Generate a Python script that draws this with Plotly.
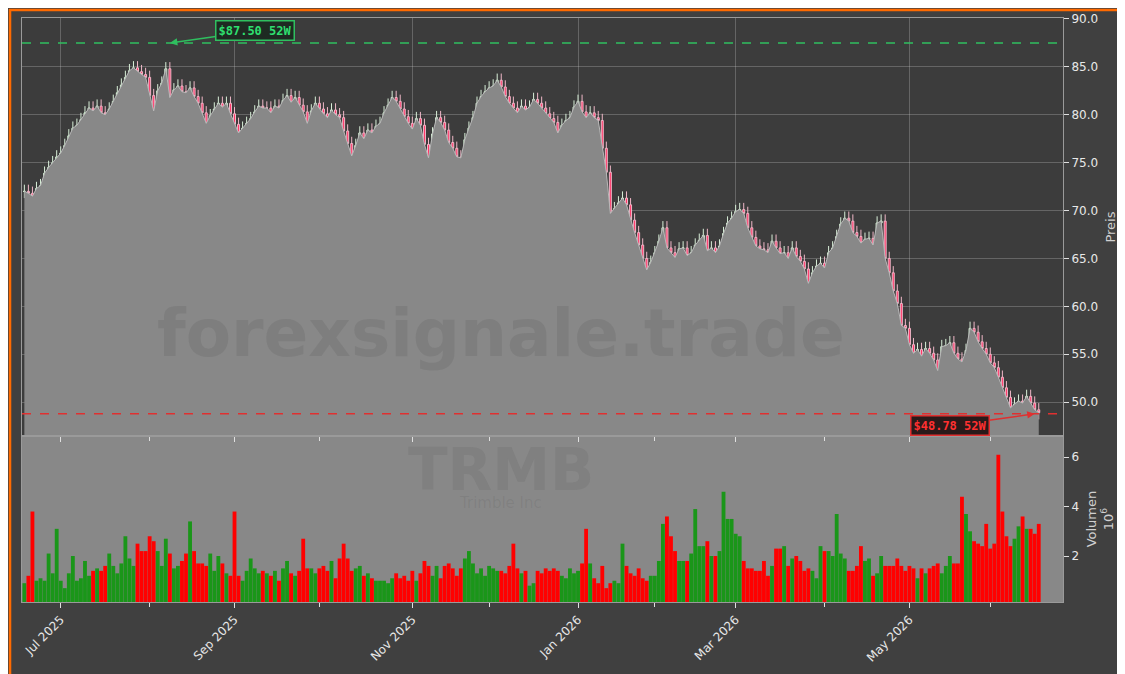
import pandas as pd
import plotly.graph_objects as go
from plotly.subplots import make_subplots

# --------------------------
# Data
# --------------------------
closes = [
    72.0, 71.8, 71.5, 72.3, 72.6, 73.9, 74.5, 75.0, 75.6, 76.0, 76.8,
    77.8, 78.6, 78.9, 79.5, 80.2, 80.7, 80.4, 80.9, 80.2, 80.0,
    80.6, 81.4, 82.3, 83.1, 83.9, 84.6, 84.9, 84.5, 84.2, 83.9,
    82.0, 80.4, 82.5, 83.3, 84.8, 81.8, 82.6, 83.0, 82.4, 82.3,
    82.8, 81.9, 81.2, 80.2, 79.1, 79.9, 80.6, 81.2, 80.8, 81.2,
    80.1, 79.0, 78.1, 78.6, 79.1, 79.6, 80.3, 80.9, 80.7, 80.7,
    80.2, 80.9, 80.7, 81.5, 82.0, 81.3, 81.8, 81.0, 80.3, 79.1,
    80.4, 81.2, 80.6, 80.1, 79.7, 80.5, 80.0, 79.7, 78.3, 77.0,
    75.7, 76.8, 78.1, 77.5, 78.4, 78.1, 78.8, 79.1, 80.2, 81.0,
    81.8, 81.4, 80.6, 79.8, 79.1, 78.5, 79.6, 78.9, 76.9, 75.5,
    78.0, 79.7, 79.2, 78.4, 77.1, 76.5, 75.6, 75.5, 77.4, 78.6,
    79.7, 81.2, 81.9, 82.4, 82.8, 83.0, 83.6, 82.9, 81.9, 81.2,
    80.7, 80.2, 80.9, 80.5, 80.8, 81.6, 81.2, 80.7, 80.1, 79.6,
    79.2, 78.1, 78.9, 79.4, 79.7, 80.8, 81.4, 80.3, 79.7, 80.2,
    79.7, 79.4, 76.5, 74.0, 69.7, 70.2, 70.8, 71.3, 70.6, 69.0,
    67.7, 66.4, 65.0, 63.8, 64.6, 65.6, 66.8, 68.2, 66.1, 65.6,
    65.1, 66.0, 66.1, 65.3, 65.6, 66.4, 66.9, 67.4, 65.8, 66.1,
    65.6, 66.3, 67.6, 68.7, 69.2, 69.9, 70.1, 69.7, 68.2, 67.2,
    66.3, 66.0, 65.9, 65.6, 66.8, 66.1, 65.5, 65.6, 65.0, 66.1, 65.2,
    64.7, 63.9, 62.4, 63.5, 64.2, 64.5, 64.0, 65.6, 66.1, 67.3,
    68.6, 69.2, 68.9, 67.7, 67.3, 66.6, 67.0, 67.1, 66.4, 68.7,
    68.9, 65.0, 63.5, 61.6, 60.3, 58.0, 57.7, 56.0, 55.1, 55.5,
    54.8, 55.6, 55.1, 54.4, 53.3, 55.8, 55.9, 56.2, 55.1, 54.5,
    54.2, 55.4, 57.7, 57.3, 56.3, 55.6, 55.0, 54.1, 53.6, 52.6,
    51.5, 50.5, 49.4, 49.8, 50.1, 49.9, 50.6, 49.9, 49.2, 48.9,
]

volumes = [
    0.9, 1.2, 3.8, 1.0, 1.1, 1.0, 2.1, 1.3, 3.1, 1.0, 0.7, 1.3, 2.0, 1.0, 1.1, 1.8, 1.2, 1.4, 1.5, 1.4,
    1.6, 2.1, 1.6, 1.3, 1.7, 2.8, 1.9, 1.6, 2.5, 2.2, 2.2, 2.8, 2.6, 2.2, 1.6, 2.7, 2.1, 1.5, 1.6, 1.8,
    2.1, 3.4, 2.2, 1.7, 1.7, 1.6, 2.1, 1.4, 2.0, 1.7, 1.3, 1.2, 3.8, 1.2, 1.0, 1.4, 1.9, 1.5, 1.3, 1.4,
    1.3, 1.2, 1.4, 1.0, 1.5, 1.8, 1.3, 1.2, 1.4, 2.7, 1.5, 1.5, 1.3, 1.5, 1.6, 1.4, 1.8, 1.1, 1.9, 2.5,
    1.9, 1.4, 1.5, 1.6, 1.2, 1.3, 1.1, 1.0, 1.0, 1.0, 0.9, 1.1, 1.3, 1.1, 1.2, 1.0, 1.4, 1.0, 1.3, 1.8,
    1.6, 1.2, 1.6, 1.1, 1.6, 1.7, 1.5, 1.2, 1.5, 1.9, 2.2, 1.7, 1.3, 1.5, 1.2, 1.6, 1.5, 1.4, 1.4, 1.3,
    1.6, 2.5, 1.5, 1.3, 1.4, 0.8, 0.9, 1.4, 1.3, 1.5, 1.4, 1.5, 1.4, 1.2, 1.1, 1.5, 1.3, 1.4, 1.7, 3.1,
    1.7, 1.1, 0.9, 1.6, 0.7, 0.9, 1.0, 0.9, 2.5, 1.6, 1.3, 1.2, 1.5, 1.1, 1.0, 1.2, 1.2, 1.8, 3.3, 3.6,
    2.8, 2.2, 1.8, 1.8, 1.8, 2.1, 3.9, 2.4, 2.4, 2.6, 2.0, 2.0, 2.2, 4.6, 3.5, 3.5, 2.9, 2.8, 1.8, 1.5,
    1.5, 1.4, 1.4, 1.8, 1.2, 1.6, 2.3, 2.3, 2.4, 1.6, 1.9, 2.0, 1.8, 1.4, 1.5, 1.4, 1.1, 2.4, 2.2, 2.2,
    2.0, 3.7, 2.1, 1.9, 1.4, 1.4, 1.6, 2.4, 1.8, 1.9, 1.2, 1.3, 2.0, 1.6, 1.6, 1.6, 1.9, 1.6, 1.4, 1.6,
    1.5, 1.1, 1.5, 1.3, 1.5, 1.6, 1.7, 1.3, 1.6, 2.0, 1.7, 1.7, 4.4, 3.7, 3.0, 2.6, 2.5, 2.4, 3.3, 2.3,
    2.5, 6.1, 3.8, 2.8, 2.4, 2.7, 3.2, 3.6, 3.1, 3.1, 2.9, 3.3,
]

holidays = ["2025-07-04", "2025-09-01", "2025-11-27", "2025-12-25", "2026-01-01",
            "2026-01-19", "2026-02-16", "2026-04-03", "2026-05-25"]

high_52w = 87.50
low_52w = 48.78

n = min(len(closes), len(volumes))
closes = closes[:n]
volumes = volumes[:n]

days = pd.bdate_range("2025-06-18", periods=n + 20)
days = [d for d in days if d.strftime("%Y-%m-%d") not in holidays][:n]

opens = [closes[0]] + closes[:-1]
highs = [max(o, c) + 0.7 for o, c in zip(opens, closes)]
lows = [min(o, c) - 0.7 for o, c in zip(opens, closes)]
vol_colors = ["#1a9619" if c >= o else "#ff0000" for o, c in zip(opens, closes)]

# --------------------------
# Figure
# --------------------------
fig = make_subplots(rows=2, cols=1, shared_xaxes=True, vertical_spacing=0,
                    row_heights=[0.716, 0.284])

# light panel behind the volume bars
fig.add_shape(type="rect", xref="paper", yref="paper", x0=0, x1=1, y0=0, y1=0.284,
              fillcolor="#888888", line_width=0, layer="below")

fig.add_trace(go.Scatter(x=days, y=closes, mode="lines", fill="tozeroy",
                         line=dict(color="#b8b8b8", width=1),
                         fillcolor="#888888", hoverinfo="skip", showlegend=False),
              row=1, col=1)

fig.add_trace(go.Candlestick(x=days, open=opens, high=highs, low=lows, close=closes,
                             increasing=dict(fillcolor="#5cd65c", line=dict(color="#d8efd8", width=1)),
                             decreasing=dict(fillcolor="#ff3366", line=dict(color="#f0b8c8", width=1)),
                             whiskerwidth=0, showlegend=False),
              row=1, col=1)

fig.add_trace(go.Bar(x=days, y=volumes, marker=dict(color=vol_colors, line_width=0),
                     showlegend=False), row=2, col=1)

fig.add_hline(y=high_52w, line=dict(color="#2fbf5f", width=1.5, dash="dash"), row=1, col=1)
fig.add_hline(y=low_52w, line=dict(color="#e03030", width=1.5, dash="dash"), row=1, col=1)

i_hi = 36
i_lo = len(lows) - 2
fig.add_annotation(x=days[i_hi], y=high_52w, xref="x", yref="y",
                   text="<b>$87.50 52W</b>", font=dict(color="#2fdf6f", size=12, family="DejaVu Sans Mono"),
                   bgcolor="#1e2a22", bordercolor="#2fbf5f", borderwidth=1.5, borderpad=2,
                   showarrow=True, arrowhead=2, arrowcolor="#2fbf5f", arrowwidth=1.5,
                   ax=85, ay=-12)
fig.add_annotation(x=days[i_lo], y=low_52w, xref="x", yref="y",
                   text="<b>$48.78 52W</b>", font=dict(color="#ff3030", size=12, family="DejaVu Sans Mono"),
                   bgcolor="#2a1a1a", bordercolor="#e03030", borderwidth=1.5, borderpad=2,
                   showarrow=True, arrowhead=2, arrowcolor="#e03030", arrowwidth=1.5,
                   ax=-85, ay=12)

# watermarks
fig.add_annotation(x=0.46, y=0.46, xref="paper", yref="paper", yanchor="middle",
                   text="<b>forexsignale.trade</b>", showarrow=False,
                   font=dict(size=66, color="rgba(60,60,60,0.12)", family="DejaVu Sans"))
fig.add_annotation(x=0.46, y=0.226, xref="paper", yref="paper", yanchor="middle",
                   text="<b>TRMB</b>", showarrow=False,
                   font=dict(size=58, color="rgba(60,60,60,0.1)", family="DejaVu Sans"))
fig.add_annotation(x=0.46, y=0.17, xref="paper", yref="paper", yanchor="middle",
                   text="Trimble Inc", showarrow=False,
                   font=dict(size=15, color="rgba(60,60,60,0.1)", family="DejaVu Sans"))

# orange frame around the figure
fig.add_shape(type="rect", xref="paper", yref="paper", x0=-0.0115, x1=1.0648, y0=-0.1325, y1=1.0135,
              line=dict(color="#ff6a00", width=2.5), fillcolor="rgba(0,0,0,0)")

grid = "rgba(200,200,200,0.3)"
x_end = days[-1] + pd.tseries.offsets.BDay(6)
fig.update_xaxes(type="date", rangebreaks=[dict(bounds=["sat", "mon"]), dict(values=holidays)],
                 range=[days[0] - pd.Timedelta(hours=14), x_end],
                 showgrid=True, gridcolor=grid, dtick="M2", tick0="2025-07-01",
                 tickformat="%b %Y", tickangle=-45, ticks="outside", tickcolor="#e0e0e0",
                 minor=dict(dtick="M1", ticks="outside", ticklen=4, tickcolor="#e0e0e0", showgrid=False),
                 showline=True, linecolor="#9a9a9a", mirror=True, zeroline=False)
fig.update_xaxes(showticklabels=False, row=1, col=1)
fig.update_xaxes(showgrid=False, row=2, col=1)
fig.update_xaxes(rangeslider_visible=False)

fig.update_yaxes(side="right", showgrid=True, gridcolor=grid, ticks="outside", tickcolor="#e0e0e0",
                 showline=True, linecolor="#9a9a9a", mirror=True, zeroline=False, automargin=False)
fig.update_yaxes(range=[46.45, 90.1], dtick=5, tickformat=".1f",
                 title=dict(text="Preis", font=dict(size=13, color="#d0d0d0"), standoff=8), row=1, col=1)
fig.update_yaxes(range=[0.14, 6.85], tickvals=[2, 4, 6], ticktext=["2", "4", "6"], showgrid=False,
                 title=dict(text="Volumen<br>10<sup>6</sup>", font=dict(size=13, color="#d0d0d0"), standoff=8),
                 row=2, col=1)

fig.update_layout(
    width=1125, height=674,
    paper_bgcolor="#404040", plot_bgcolor="#3c3c3c",
    font=dict(family="DejaVu Sans", color="#e8e8e8", size=12),
    margin=dict(l=14, r=70, t=10, b=80, autoexpand=False),
    bargap=0.05, hovermode=False,
)

fig.write_html("out.html")
